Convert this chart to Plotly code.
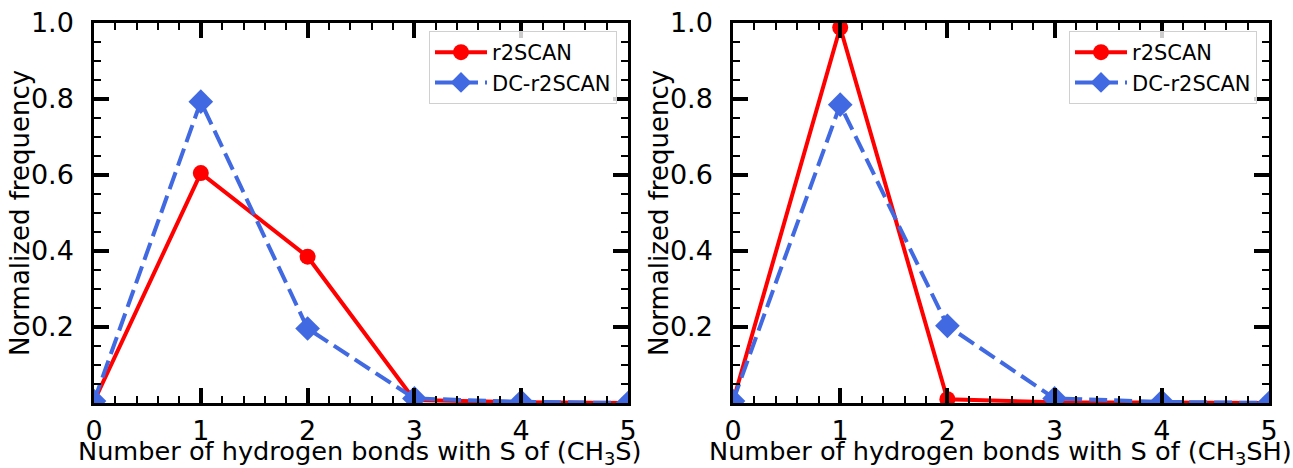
import plotly.graph_objects as go

# ---- data ----
n_bonds = [0, 1, 2, 3, 4, 5]

left_r2scan = [0.004, 0.605, 0.385, 0.008, 0.002, 0.0]
left_dc_r2scan = [0.005, 0.793, 0.196, 0.012, 0.003, 0.0]

right_r2scan = [0.004, 0.988, 0.010, 0.002, 0.001, 0.0]
right_dc_r2scan = [0.005, 0.785, 0.203, 0.012, 0.003, 0.0]

y_tickvals = [0.0, 0.2, 0.4, 0.6, 0.8, 1.0]
y_ticktext = ["", "0.2", "0.4", "0.6", "0.8", "1.0"]
x_tickvals = [0, 1, 2, 3, 4, 5]
x_ticktext = ["0", "1", "2", "3", "4", "5"]

left_xlabel = "Number of hydrogen bonds with S of (CH<sub>3</sub>S)"
right_xlabel = "Number of hydrogen bonds with S of (CH<sub>3</sub>SH)"
ylabel = "Normalized frequency"

RED = "#ff0000"
BLUE = "#4169e1"
FONT = "DejaVu Sans"

fig = go.Figure()

def add_pair(xa, ya, r_vals, b_vals, legend):
    fig.add_trace(go.Scatter(
        x=n_bonds, y=r_vals, name="r2SCAN", mode="lines+markers",
        line=dict(color=RED, width=4),
        marker=dict(symbol="circle", size=16, color=RED),
        xaxis=xa, yaxis=ya, legend=legend))
    fig.add_trace(go.Scatter(
        x=n_bonds, y=b_vals, name="DC-r2SCAN", mode="lines+markers",
        line=dict(color=BLUE, width=4, dash="18px,7px"),
        marker=dict(symbol="diamond", size=19, color=BLUE),
        xaxis=xa, yaxis=ya, legend=legend))

add_pair("x", "y", left_r2scan, left_dc_r2scan, "legend")
add_pair("x2", "y2", right_r2scan, right_dc_r2scan, "legend2")

W, H = 1293, 468
def dx(px):
    return px / W
def dy(py):
    return (H - py) / H

common_axis = dict(
    showline=True, linewidth=2.5, linecolor="black", mirror="allticks",
    ticks="inside", ticklen=15, tickwidth=3.5, tickcolor="black",
    showgrid=False, zeroline=False, automargin=False,
    tickfont=dict(family=FONT, size=27, color="black"),
)

def xaxis(domain):
    d = dict(common_axis)
    d.update(domain=domain, range=[0, 5], tickmode="array",
             tickvals=x_tickvals, ticktext=x_ticktext, ticklabelstandoff=2,
             minor=dict(ticks="inside", ticklen=7, tickwidth=1.8, tickcolor="black",
                        dtick=0.2, tick0=0, showgrid=False))
    return d

def yaxis(domain, anchor):
    d = dict(common_axis)
    d.update(domain=domain, range=[0, 1], tickmode="array", anchor=anchor,
             tickvals=y_tickvals, ticktext=y_ticktext, ticklabelstandoff=12,
             minor=dict(ticks="inside", ticklen=7, tickwidth=1.8, tickcolor="black",
                        dtick=0.05, tick0=0, showgrid=False))
    return d

ydom = [dy(403), dy(23)]
legend_common = dict(
    font=dict(family=FONT, size=21, color="black"),
    bgcolor="rgba(255,255,255,0.8)", bordercolor="#d0d0d0", borderwidth=1,
    xanchor="right", yanchor="top", itemwidth=52, tracegroupgap=0,
)

fig.update_layout(
    template="none",
    width=W, height=H,
    margin=dict(l=0, r=0, t=0, b=0, autoexpand=False),
    paper_bgcolor="white", plot_bgcolor="white",
    font=dict(family=FONT, color="black"),
    showlegend=True,
    xaxis=xaxis([dx(94), dx(628)]) | dict(anchor="y"),
    yaxis=yaxis(ydom, "x"),
    xaxis2=xaxis([dx(733), dx(1269)]) | dict(anchor="y2"),
    yaxis2=yaxis(ydom, "x2"),
    legend=dict(legend_common, x=dx(617), y=dy(31)),
    legend2=dict(legend_common, x=dx(1257), y=dy(31)),
)

# y-axis titles as rotated text next to each panel
for xpx in (20, 659):
    fig.add_annotation(
        text=ylabel, textangle=-90, showarrow=False,
        xref="paper", yref="paper", x=dx(xpx), y=dy(213),
        xanchor="center", yanchor="middle",
        font=dict(family=FONT, size=26, color="black"))

# x-axis titles below each panel
for xcen, label in ((360, left_xlabel), (1000, right_xlabel)):
    fig.add_annotation(
        text=label, showarrow=False,
        xref="paper", yref="paper", x=dx(xcen), y=dy(452),
        xanchor="center", yanchor="middle",
        font=dict(family=FONT, size=25.6, color="black"))

fig.write_html("out.html")
